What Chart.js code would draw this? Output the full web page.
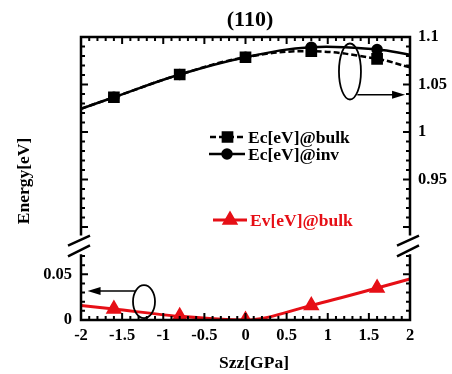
<!DOCTYPE html>
<html>
<head>
<meta charset="utf-8">
<script src="https://cdn.jsdelivr.net/npm/chart.js@4.4.1/dist/chart.umd.min.js"></script>
<style>
html, body { margin: 0; padding: 0; background: #fff; }
</style>
</head>
<body>
<canvas id="c" width="452" height="374"></canvas>
<script>
// ---- data ----
const strain = [-2, -1.6, -0.8, 0, 0.8, 1.6, 2];
const ecBulk = [1.0245, 1.0366, 1.0605, 1.0787, 1.085, 1.077, 1.068];
const ecInv  = [1.0245, 1.0366, 1.0605, 1.0787, 1.0893, 1.0868, 1.0813];
const evBulk = [0.016, 0.012, 0.004, 0, 0.016, 0.035, 0.045];
const xTickVals = [-2, -1.5, -1, -0.5, 0, 0.5, 1, 1.5, 2];
const leftTickVals = [0, 0.05];
const rightTickVals = [0.95, 1, 1.05, 1.1];
const seriesNames = ['Ec[eV]@bulk', 'Ec[eV]@inv', 'Ev[eV]@bulk'];

const RED = '#e60f16';
const FONT = '"Liberation Serif", "Times New Roman", serif';

function pts(ys) {
    return strain.map((x, i) => ({ x: x, y: ys[i] }));
}
// no marker on the first / last point (curve just runs to the frame)
function markerRadius(r) {
    return ctx => (ctx.dataIndex === 0 || ctx.dataIndex === strain.length - 1) ? 0 : r;
}

const decor = {
    id: 'decor',
    afterDatasetsDraw(chart) {
        const { ctx, chartArea: a, scales } = chart;
        const x = scales.x, yl = scales.y, yr = scales.y2;
        const gapTop = yr.getPixelForValue(0.891);
        const gapBot = yl.getPixelForValue(0.072);
        ctx.save();

        // frame with break
        ctx.strokeStyle = '#000';
        ctx.lineWidth = 2.5;
        ctx.beginPath();
        ctx.moveTo(a.left, gapTop); ctx.lineTo(a.left, a.top); ctx.lineTo(a.right, a.top); ctx.lineTo(a.right, gapTop);
        ctx.moveTo(a.left, gapBot); ctx.lineTo(a.left, a.bottom); ctx.lineTo(a.right, a.bottom); ctx.lineTo(a.right, gapBot);
        ctx.stroke();

        // break marks
        ctx.lineWidth = 2.5;
        ctx.beginPath();
        [a.left, a.right].forEach(sx => {
            ctx.moveTo(sx - 13, gapTop + 10); ctx.lineTo(sx + 9, gapTop);
            ctx.moveTo(sx - 13, gapBot + 2); ctx.lineTo(sx + 9, gapBot - 9);
        });
        ctx.stroke();

        // inward ticks
        ctx.lineWidth = 2;
        ctx.beginPath();
        for (let i = -19; i <= 19; i++) {
            const px = x.getPixelForValue(i / 10), len = i % 5 === 0 ? 7 : 4;
            ctx.moveTo(px, a.bottom); ctx.lineTo(px, a.bottom - len);
            ctx.moveTo(px, a.top); ctx.lineTo(px, a.top + len);
        }
        for (let i = 1; i <= 7; i++) {
            const py = yl.getPixelForValue(i / 100), len = i % 5 === 0 ? 7 : 4;
            ctx.moveTo(a.left, py); ctx.lineTo(a.left + len, py);
            ctx.moveTo(a.right, py); ctx.lineTo(a.right - len, py);
        }
        for (let i = 90; i <= 109; i++) {
            const py = yr.getPixelForValue(i / 100), len = i % 5 === 0 ? 7 : 4;
            ctx.moveTo(a.left, py); ctx.lineTo(a.left + len, py);
            ctx.moveTo(a.right, py); ctx.lineTo(a.right - len, py);
        }
        ctx.stroke();

        // ellipses + arrows
        ctx.lineWidth = 1.8;
        const e1x = x.getPixelForValue(1.27), e1y = yr.getPixelForValue(1.0637);
        ctx.beginPath(); ctx.ellipse(e1x, e1y, 11, 28, 0, 0, Math.PI * 2); ctx.stroke();
        const e2x = x.getPixelForValue(-1.234), e2y = yl.getPixelForValue(0.0202);
        ctx.beginPath(); ctx.ellipse(e2x, e2y, 11, 16.5, 0, 0, Math.PI * 2); ctx.stroke();

        function arrow(x0, x1, y) {
            const dir = Math.sign(x1 - x0);
            ctx.lineWidth = 1.5;
            ctx.beginPath(); ctx.moveTo(x0, y); ctx.lineTo(x1 - dir * 10, y); ctx.stroke();
            ctx.beginPath();
            ctx.moveTo(x1, y); ctx.lineTo(x1 - dir * 13, y - 4); ctx.lineTo(x1 - dir * 13, y + 4);
            ctx.closePath(); ctx.fillStyle = '#000'; ctx.fill();
        }
        arrow(x.getPixelForValue(1.36), x.getPixelForValue(1.94), yr.getPixelForValue(1.0392));
        arrow(x.getPixelForValue(-1.344), x.getPixelForValue(-1.92), yl.getPixelForValue(0.0317));

        // legend
        const ds = chart.data.datasets;
        const rows = [
            { y: 137, x0: 210, x1: 245, tx: 248 },
            { y: 154, x0: 209, x1: 245, tx: 248 },
            { y: 220, x0: 213, x1: 247, tx: 250 }
        ];
        rows.forEach((r, i) => {
            const d = ds[i];
            ctx.strokeStyle = d.borderColor;
            ctx.fillStyle = d.backgroundColor;
            ctx.lineWidth = d.borderWidth;
            ctx.setLineDash(d.borderDash || []);
            ctx.beginPath(); ctx.moveTo(r.x0, r.y); ctx.lineTo(r.x1, r.y); ctx.stroke();
            ctx.setLineDash([]);
            Chart.helpers.drawPoint(ctx, { pointStyle: d.pointStyle, radius: d.legendRadius, rotation: 0, borderWidth: 1 },
                (r.x0 + r.x1) / 2, r.y);
            ctx.fillStyle = i === 2 ? RED : '#000';
            ctx.font = 'bold 17.5px ' + FONT;
            ctx.textAlign = 'left';
            ctx.textBaseline = 'middle';
            ctx.fillText(d.label, r.tx, r.y + 1);
        });

        // titles
        ctx.fillStyle = '#000';
        ctx.textAlign = 'center';
        ctx.textBaseline = 'middle';
        ctx.font = 'bold 22px ' + FONT;
        ctx.fillText('(110)', 250, 20);
        ctx.font = 'bold 17.5px ' + FONT;
        ctx.fillText('Szz[GPa]', 254, 363);
        ctx.save();
        ctx.translate(24, 181);
        ctx.rotate(-Math.PI / 2);
        ctx.font = 'bold 17.5px ' + FONT;
        ctx.fillText('Energy[eV]', 0, 0);
        ctx.restore();

        ctx.restore();
    }
};

const tickFont = { family: FONT, size: 16.5, weight: 'bold' };

new Chart(document.getElementById('c'), {
    type: 'line',
    data: {
        datasets: [{
            label: seriesNames[0],
            data: pts(ecBulk),
            yAxisID: 'y2',
            borderColor: '#000',
            backgroundColor: '#000',
            borderWidth: 2.5,
            borderDash: [6, 3],
            pointStyle: 'rect',
            pointRadius: markerRadius(6.5),
            legendRadius: 6.5,
            tension: 0.4
        }, {
            label: seriesNames[1],
            data: pts(ecInv),
            yAxisID: 'y2',
            borderColor: '#000',
            backgroundColor: '#000',
            borderWidth: 2.5,
            pointStyle: 'circle',
            pointRadius: markerRadius(4.5),
            legendRadius: 4.5,
            tension: 0.4
        }, {
            label: seriesNames[2],
            data: pts(evBulk),
            yAxisID: 'y',
            borderColor: RED,
            backgroundColor: RED,
            borderWidth: 3,
            pointStyle: 'triangle',
            pointRadius: markerRadius(6.5),
            legendRadius: 6.5,
            cubicInterpolationMode: 'monotone'
        }]
    },
    options: {
        responsive: false,
        animation: false,
        devicePixelRatio: 1,
        layout: { padding: { top: 37, left: 0, right: 0, bottom: 0 } },
        plugins: { legend: { display: false }, title: { display: false }, tooltip: { enabled: false } },
        scales: {
            x: {
                type: 'linear',
                min: -2, max: 2,
                grid: { display: false, drawTicks: false },
                border: { display: false },
                afterBuildTicks: s => { s.ticks = xTickVals.map(v => ({ value: v })); },
                afterFit: s => { s.height = 54; },
                ticks: { color: '#000', font: tickFont, padding: 6, maxRotation: 0, autoSkip: false, callback: v => String(v) }
            },
            y: {
                type: 'linear',
                position: 'left',
                min: 0, max: 0.31,
                grid: { display: false, drawTicks: false },
                border: { display: false },
                afterBuildTicks: s => { s.ticks = leftTickVals.map(v => ({ value: v })); },
                afterFit: s => { s.width = 81; },
                ticks: { color: '#000', font: tickFont, padding: 9, autoSkip: false, callback: v => String(v) }
            },
            y2: {
                type: 'linear',
                position: 'right',
                min: 0.8021, max: 1.1,
                grid: { display: false, drawTicks: false },
                border: { display: false },
                afterBuildTicks: s => { s.ticks = rightTickVals.map(v => ({ value: v })); },
                afterFit: s => { s.width = 42; },
                ticks: { color: '#000', font: tickFont, padding: 8, autoSkip: false, callback: v => String(v) }
            }
        }
    },
    plugins: [decor]
});
</script>
</body>
</html>
